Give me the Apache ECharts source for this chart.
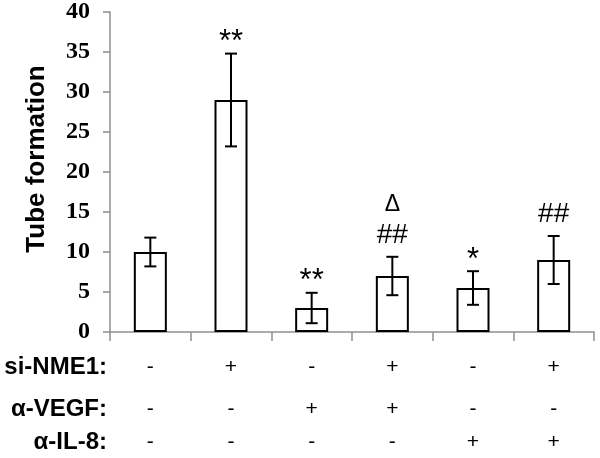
<!DOCTYPE html>
<html>
<head>
<meta charset="utf-8">
<script src="https://cdn.jsdelivr.net/npm/echarts@6/dist/echarts.min.js"></script>
<style>
    html, body { margin: 0; padding: 0; background: #fff; }
    #main { width: 600px; height: 458px; }
</style>
</head>
<body>
<div id="main"></div>
<script>
    // groups, one per bar
    var groups = ['g1', 'g2', 'g3', 'g4', 'g5', 'g6'];
    var means = [10, 29, 3, 7, 5.5, 9];
    var errs = [1.8, 5.8, 1.9, 2.4, 2.1, 3.0];
    // significance marks (lower line / upper line)
    var marksLow = ['', '**', '**', '##', '*', '##'];
    var marksTop = ['', '', '', '\u0394', '', ''];
    // treatment table
    var siNME1 = ['-', '+', '-', '+', '-', '+'];
    var aVEGF = ['-', '-', '+', '+', '-', '-'];
    var aIL8 = ['-', '-', '-', '-', '+', '+'];
    var yTicks = {min: 0, max: 40, interval: 5};

    var gray = '#8f8f8f';
    var ec = echarts.init(document.getElementById('main'));

    function rowAxis(name, signs, y) {
        return {
            type: 'category',
            data: signs,
            position: 'bottom',
            offset: y - 332,
            axisLine: {show: false},
            axisTick: {show: false},
            axisLabel: {
                interval: 0, margin: 0, verticalAlign: 'middle',
                color: '#000', fontFamily: 'Arial', fontSize: 21
            },
            name: name,
            nameLocation: 'start',
            nameGap: 3,
            nameTextStyle: {
                color: '#000', fontFamily: 'Arial', fontWeight: 'bold', fontSize: 24,
                align: 'right', verticalAlign: 'middle'
            }
        };
    }

    ec.setOption({
        animation: false,
        grid: {left: 110, right: 6, top: 12, bottom: 126},
        xAxis: [
            {
                type: 'category',
                data: groups,
                axisLine: {lineStyle: {color: gray, width: 1.5}},
                axisTick: {show: true, length: 9, lineStyle: {color: gray, width: 1.5}},
                axisLabel: {show: false}
            },
            rowAxis('si-NME1:', siNME1, 367),
            rowAxis('\u03b1-VEGF:', aVEGF, 409),
            rowAxis('\u03b1-IL-8:', aIL8, 442)
        ],
        yAxis: {
            type: 'value',
            min: yTicks.min,
            max: yTicks.max,
            interval: yTicks.interval,
            splitLine: {show: false},
            axisLine: {show: true, lineStyle: {color: gray, width: 1.5}},
            axisTick: {show: true, length: 7, lineStyle: {color: gray, width: 1.5}},
            axisLabel: {
                margin: 20, color: '#000', fontFamily: 'Liberation Serif',
                fontWeight: 'bold', fontSize: 24
            }
        },
        graphic: [{
            type: 'text',
            x: 37, y: 159,
            rotation: Math.PI / 2,
            style: {
                text: 'Tube formation', fill: '#000',
                font: 'bold 26px Arial', align: 'center', verticalAlign: 'middle'
            }
        }],
        series: [
            {
                type: 'bar',
                data: means,
                barWidth: 33,
                itemStyle: {color: '#fff', borderColor: '#000', borderWidth: 2}
            },
            {
                type: 'custom',
                data: means.map(function (m, i) { return [i, m + errs[i], m - errs[i]]; }),
                renderItem: function (params, api) {
                    var i = params.dataIndex;
                    var hi = api.coord([i, api.value(1)]);
                    var lo = api.coord([i, api.value(2)]);
                    var x = hi[0], c = 6;
                    var ls = {stroke: '#000', lineWidth: 2};
                    var kids = [
                        {type: 'line', shape: {x1: x, y1: hi[1], x2: x, y2: lo[1]}, style: ls},
                        {type: 'line', shape: {x1: x - c, y1: hi[1], x2: x + c, y2: hi[1]}, style: ls},
                        {type: 'line', shape: {x1: x - c, y1: lo[1], x2: x + c, y2: lo[1]}, style: ls}
                    ];
                    var low = marksLow[i];
                    if (low) {
                        var star = low.charAt(0) === '*';
                        kids.push({
                            type: 'text',
                            style: {
                                text: low, x: x, y: hi[1] - (star ? 11 : 22), fill: '#000',
                                font: (star ? '31px' : '28px') + ' Arial',
                                align: 'center', verticalAlign: 'middle'
                            }
                        });
                    }
                    if (marksTop[i]) {
                        kids.push({
                            type: 'text',
                            style: {
                                text: marksTop[i], x: x, y: hi[1] - 52, fill: '#000',
                                font: '23px Arial', align: 'center', verticalAlign: 'middle'
                            }
                        });
                    }
                    return {type: 'group', children: kids};
                },
                z: 5
            }
        ]
    });
</script>
</body>
</html>
